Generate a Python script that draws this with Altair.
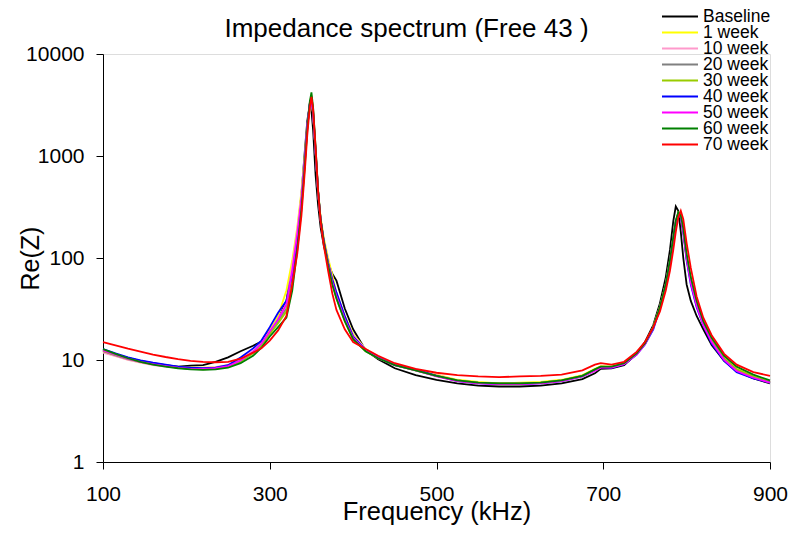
import altair as alt
import pandas as pd

FONT = "Liberation Sans"

freq = [100, 115, 130, 145, 160, 175, 190, 205, 220, 235, 250,
        265, 280, 290, 300, 310, 320,
        327, 333, 338, 342, 345, 348, 350, 352, 355, 358, 361, 365, 370, 375, 380,
        390, 400, 415, 430, 450, 475, 500,
        525, 550, 575, 600, 625, 650, 675,
        690, 697, 710, 725, 740, 750, 760,
        768, 775, 780, 784, 787, 790, 793, 796, 800,
        805, 812, 820, 830, 845, 860, 880, 900]

series_names = ["Baseline", "1 week", "10 week", "20 week", "30 week",
                "40 week", "50 week", "60 week", "70 week"]
series_colors = ["#000000", "#FFFF00", "#FF99CC", "#808080", "#99CC00",
                 "#0000FF", "#FF00FF", "#008000", "#FF0000"]

baseline = [12.5, 11.4, 10.5, 9.8, 9.3, 8.9, 8.6, 8.8, 8.9, 9.6, 10.6,
            12.2, 13.8, 15.2, 19.5, 25, 38,
            85, 170, 420, 1100, 2200, 3200, 2800, 1800, 650, 330, 200, 130, 90, 70, 60,
            32, 20, 12.5, 10.2, 8.3, 7.1, 6.4,
            5.9, 5.6, 5.5, 5.5, 5.6, 5.9, 6.5,
            7.4, 8.2, 8.3, 8.9, 11.5, 15, 22,
            36, 65, 120, 230, 320, 290, 180, 100, 55,
            38, 27, 20, 14, 9.8, 7.8, 6.6, 5.9]
week1 = [12.0, 11.0, 10.1, 9.5, 9.0, 8.7, 8.5, 8.4, 8.4, 8.5, 8.9,
         10.0, 12.0, 14.8, 19.5, 27, 48,
         95, 200, 450, 1000, 2000, 3000, 3400, 2600, 1100, 450, 250, 155, 100, 68, 45,
         27, 18, 12.8, 10.8, 9.1, 8.0, 7.2,
         6.4, 6.1, 5.9, 6.0, 6.1, 6.4, 7.1,
         8.2, 8.7, 8.6, 9.3, 11.7, 14.5, 21,
         33, 55, 90, 150, 215, 265, 250, 185, 100,
         60, 35, 23, 16, 10.5, 8.2, 6.9, 6.1]
week10 = [11.8, 10.9, 10.0, 9.4, 8.9, 8.6, 8.4, 8.3, 8.3, 8.5, 8.9,
          10.2, 12.3, 14.5, 19, 25, 36,
          85, 190, 420, 950, 1900, 3100, 3500, 2600, 1100, 440, 240, 145, 92, 62, 43,
          26, 17.5, 12.8, 10.6, 9.0, 8.0, 7.1,
          6.3, 6.0, 5.9, 5.9, 6.0, 6.3, 7.0,
          8.0, 8.6, 8.5, 9.2, 11.5, 14.5, 21,
          33, 55, 92, 155, 225, 270, 255, 185, 100,
          60, 35, 23, 15.5, 10.3, 8.0, 6.8, 6.1]
week20 = [12.2, 11.1, 10.2, 9.6, 9.1, 8.7, 8.4, 8.2, 8.2, 8.3, 8.7,
          9.8, 11.8, 14.2, 18.5, 24, 32,
          65, 140, 330, 850, 1900, 3200, 3700, 2700, 1100, 440, 235, 140, 88, 58, 42,
          25, 16.5, 12.3, 10.4, 8.9, 7.9, 7.0,
          6.3, 6.0, 5.9, 5.9, 6.0, 6.3, 7.0,
          8.0, 8.5, 8.5, 9.2, 11.5, 14.5, 21,
          33, 56, 95, 160, 230, 275, 255, 185, 100,
          60, 35, 23, 15.5, 10.2, 8.0, 6.8, 6.0]
week30 = [12.3, 11.2, 10.3, 9.6, 9.1, 8.7, 8.4, 8.2, 8.1, 8.2, 8.6,
          9.6, 11.6, 14.0, 18.0, 23, 30,
          60, 130, 320, 850, 1900, 3300, 3900, 2800, 1150, 450, 240, 140, 86, 56, 40,
          24, 16, 12.2, 10.4, 8.9, 7.9, 7.0,
          6.3, 6.0, 5.9, 5.9, 6.0, 6.3, 7.0,
          8.1, 8.6, 8.5, 9.2, 11.5, 14.5, 21,
          33, 56, 95, 160, 230, 280, 260, 190, 105,
          62, 36, 23, 15.5, 10.3, 8.1, 6.9, 6.1]
week40 = [12.8, 11.6, 10.6, 9.9, 9.4, 9.0, 8.6, 8.4, 8.3, 8.4, 8.9,
          10.6, 13.0, 15.5, 21, 29, 38,
          70, 150, 350, 900, 2000, 3300, 3700, 2700, 1100, 450, 240, 145, 90, 62, 46,
          27, 17, 12.6, 10.6, 8.9, 8.1, 7.0,
          6.2, 5.9, 5.8, 5.8, 5.9, 6.2, 6.9,
          7.9, 8.5, 8.4, 9.1, 11.3, 14.2, 20,
          32, 54, 92, 155, 225, 270, 250, 175, 95,
          55, 33, 22, 14.5, 9.8, 7.6, 6.6, 6.0]
week50 = [12.4, 11.3, 10.3, 9.6, 9.1, 8.7, 8.4, 8.2, 8.2, 8.3, 8.7,
          9.9, 12.0, 14.5, 19, 25, 35,
          75, 170, 380, 900, 1950, 3200, 3600, 2650, 1100, 440, 235, 140, 88, 58, 42,
          25, 16.5, 12.4, 10.5, 8.9, 7.9, 6.9,
          6.2, 5.9, 5.8, 5.8, 5.9, 6.2, 6.9,
          7.8, 8.4, 8.4, 9.1, 11.3, 14.3, 20.5,
          32, 55, 93, 158, 228, 272, 255, 180, 98,
          57, 34, 22, 15, 10, 7.8, 6.7, 6.0]
week60 = [12.8, 11.5, 10.4, 9.6, 9.0, 8.6, 8.3, 8.1, 8.0, 8.1, 8.4,
          9.3, 11.0, 13.2, 17.0, 21, 26,
          48, 120, 300, 800, 1800, 3400, 4200, 3000, 1200, 460, 240, 140, 85, 55, 40,
          24, 16, 12.2, 10.4, 8.9, 7.9, 7.0,
          6.3, 6.0, 5.9, 5.9, 6.0, 6.3, 7.0,
          8.1, 8.6, 8.6, 9.3, 11.6, 14.6, 21,
          33, 56, 95, 160, 232, 280, 262, 195, 110,
          65, 38, 24, 16.5, 11, 8.6, 7.2, 6.3]
week70 = [15.0, 13.9, 12.9, 12.1, 11.3, 10.7, 10.2, 9.8, 9.6, 9.5, 9.6,
          10.3, 11.8, 13.0, 15.5, 19.5, 27,
          55, 110, 260, 700, 1600, 3000, 3800, 2900, 1200, 450, 230, 130, 75, 45, 31,
          20, 15, 12.8, 11.0, 9.3, 8.2, 7.5,
          7.1, 6.9, 6.8, 6.9, 7.0, 7.2, 7.9,
          9.0, 9.3, 9.0, 9.6, 12, 15, 21,
          30, 48, 75, 120, 180, 250, 290, 240, 140,
          80, 42, 26, 17.5, 11.5, 9.0, 7.6, 7.0]

all_series = [baseline, week1, week10, week20, week30, week40, week50, week60, week70]

x_ticks = [100, 300, 500, 700, 900]
y_ticks = [1, 10, 100, 1000, 10000]

rows = []
for k, (name, vals) in enumerate(zip(series_names, all_series)):
    for f, v in zip(freq, vals):
        rows.append({"Frequency": f, "ReZ": v, "Series": name, "k": k})
df = pd.DataFrame(rows)

chart = alt.Chart(df).mark_line(strokeWidth=1.8).encode(
    x=alt.X("Frequency:Q",
            scale=alt.Scale(domain=[100, 900], nice=False, zero=False),
            axis=alt.Axis(values=x_ticks, title="Frequency (kHz)", grid=False,
                          labelFontSize=21, labelFont=FONT, labelColor="#000000",
                          labelPadding=14, tickSize=7, tickColor="#000000",
                          domainColor="#000000", labelFlush=False,
                          titleFontSize=25.5, titleFont=FONT, titleFontWeight="normal",
                          titleColor="#000000", titleY=57, titleBaseline="alphabetic")),
    y=alt.Y("ReZ:Q",
            scale=alt.Scale(type="log", domain=[1, 10000], nice=False),
            axis=alt.Axis(values=y_ticks, format="d", title="Re(Z)", grid=False,
                          labelFontSize=21, labelFont=FONT, labelColor="#000000",
                          labelPadding=12, tickSize=7, tickColor="#000000",
                          domainColor="#000000", labelFlush=False,
                          titleFontSize=25, titleFont=FONT, titleFontWeight="normal",
                          titleColor="#000000", titleX=-60, titleY=204,
                          titleAngle=270, titleBaseline="bottom", titleAlign="center")),
    color=alt.Color("Series:N",
                    scale=alt.Scale(domain=series_names, range=series_colors),
                    legend=alt.Legend(title=None, orient="none", legendX=558, legendY=-45,
                                      symbolType="stroke", symbolSize=1296,
                                      symbolStrokeWidth=1.8, clipHeight=15,
                                      labelFontSize=17.5, labelFont=FONT,
                                      labelColor="#000000", labelOffset=4,
                                      rowPadding=-6, padding=0, labelLimit=200)),
    order=alt.Order("k:Q"),
).properties(
    width=667,
    height=408,
    title=alt.TitleParams("Impedance spectrum (Free 43 )", fontSize=26, font=FONT,
                          fontWeight="normal", color="#000000", anchor="middle",
                          dx=-30, dy=75, offset=21, baseline="alphabetic"),
    autosize=alt.AutoSizeParams(type="none"),
    padding={"left": 95, "top": 46, "right": 20, "bottom": 63},
).configure_view(stroke=None).configure(background="#FFFFFF")

chart.save("out.html", embed_options={"renderer": "svg", "actions": False})
